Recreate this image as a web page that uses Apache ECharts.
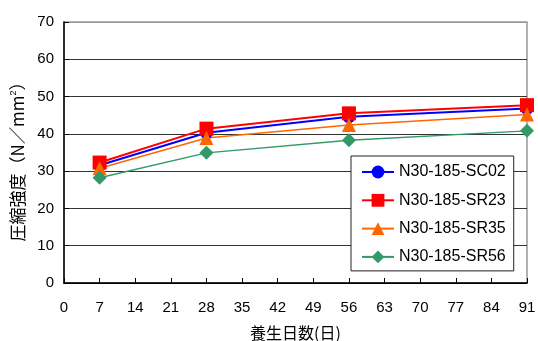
<!DOCTYPE html>
<html>
<head>
<meta charset="utf-8">
<script src="https://cdn.jsdelivr.net/npm/echarts@6/dist/echarts.min.js"></script>
<style>
  html, body { margin: 0; padding: 0; background: #fff; }
  #chart { width: 538px; height: 341px; }
</style>
</head>
<body>
<div id="chart"></div>
<script>
// Curing age (days) and compressive strength (N/mm2) per mix
const ages = [7, 28, 56, 91];
const sc02 = [31.6, 40.3, 44.6, 46.8];
const sr23 = [32.3, 41.4, 45.5, 47.7];
const sr35 = [30.8, 38.9, 42.4, 45.2];
const sr56 = [28.2, 34.9, 38.3, 40.8];
const seriesNames = ['N30-185-SC02', 'N30-185-SR23', 'N30-185-SR35', 'N30-185-SR56'];

const pairs = vals => ages.map((d, i) => [d, vals[i]]);

const numFont = 'Liberation Sans';
const jpFont = 'Noto Sans CJK JP';

const chart = echarts.init(document.getElementById('chart'), null, { renderer: 'canvas' });

function lineSeries(name, vals, color, symbol, size, width) {
  return {
    name: name,
    type: 'line',
    data: pairs(vals),
    symbol: symbol,
    symbolSize: size,
    lineStyle: { color: color, width: width },
    itemStyle: { color: color },
    emphasis: { disabled: true },
    animation: false
  };
}

chart.setOption({
  backgroundColor: '#fff',
  animation: false,
  grid: {
    left: 64, right: 11, top: 22, bottom: 58,
    outerBoundsMode: 'none',
    containLabel: false,
    show: true, borderColor: '#999', borderWidth: 1.5, backgroundColor: 'transparent'
  },
  legend: {
    data: seriesNames,
    orient: 'vertical',
    left: 351, top: 156,
    itemWidth: 32, itemHeight: 16, itemGap: 12.3,
    padding: [8, 8, 6, 10],
    itemTextGap: 5,
    borderColor: '#222', borderWidth: 1,
    backgroundColor: '#fff',
    textStyle: { fontFamily: numFont, fontSize: 16, color: '#000' }
  },
  xAxis: {
    type: 'value',
    min: 0, max: 91, interval: 7,
    name: '養生日数(日)',
    nameLocation: 'middle',
    nameGap: 42,
    nameTextStyle: { fontFamily: jpFont, fontSize: 16, color: '#000' },
    axisLine: { lineStyle: { color: '#000', width: 1.5 } },
    axisTick: { inside: true, length: 5, lineStyle: { color: '#000' } },
    axisLabel: { fontFamily: numFont, fontSize: 15, color: '#000', margin: 17 },
    splitLine: { show: false }
  },
  yAxis: {
    type: 'value',
    min: 0, max: 70, interval: 10,
    name: '圧縮強度（N／mm{sup|2}）',
    nameLocation: 'middle',
    nameRotate: 90,
    nameGap: 14,
    nameTextStyle: {
      fontFamily: jpFont, fontSize: 17, color: '#000', padding: [0, 10, 0, 0],
      rich: { sup: { fontFamily: numFont, fontSize: 9, verticalAlign: 'top', padding: [0, 0, 8, 0] } }
    },
    axisLine: { show: true, lineStyle: { color: '#000', width: 1.5 } },
    axisTick: { show: true, inside: true, length: 5, lineStyle: { color: '#000' } },
    axisLabel: { fontFamily: numFont, fontSize: 15, color: '#000', margin: 10 },
    splitLine: {
      lineStyle: { color: ['#000', '#333', '#333', '#333', '#333', '#333', '#333', '#999'], width: 1 }
    }
  },
  series: [
    lineSeries(seriesNames[0], sc02, '#0000ff', 'circle', 13, 2),
    lineSeries(seriesNames[1], sr23, '#ff0000', 'rect', 14, 2),
    lineSeries(seriesNames[2], sr35, '#ff6600', 'triangle', 14, 1.5),
    lineSeries(seriesNames[3], sr56, '#339966', 'diamond', 14, 1.5)
  ]
});
</script>
</body>
</html>
